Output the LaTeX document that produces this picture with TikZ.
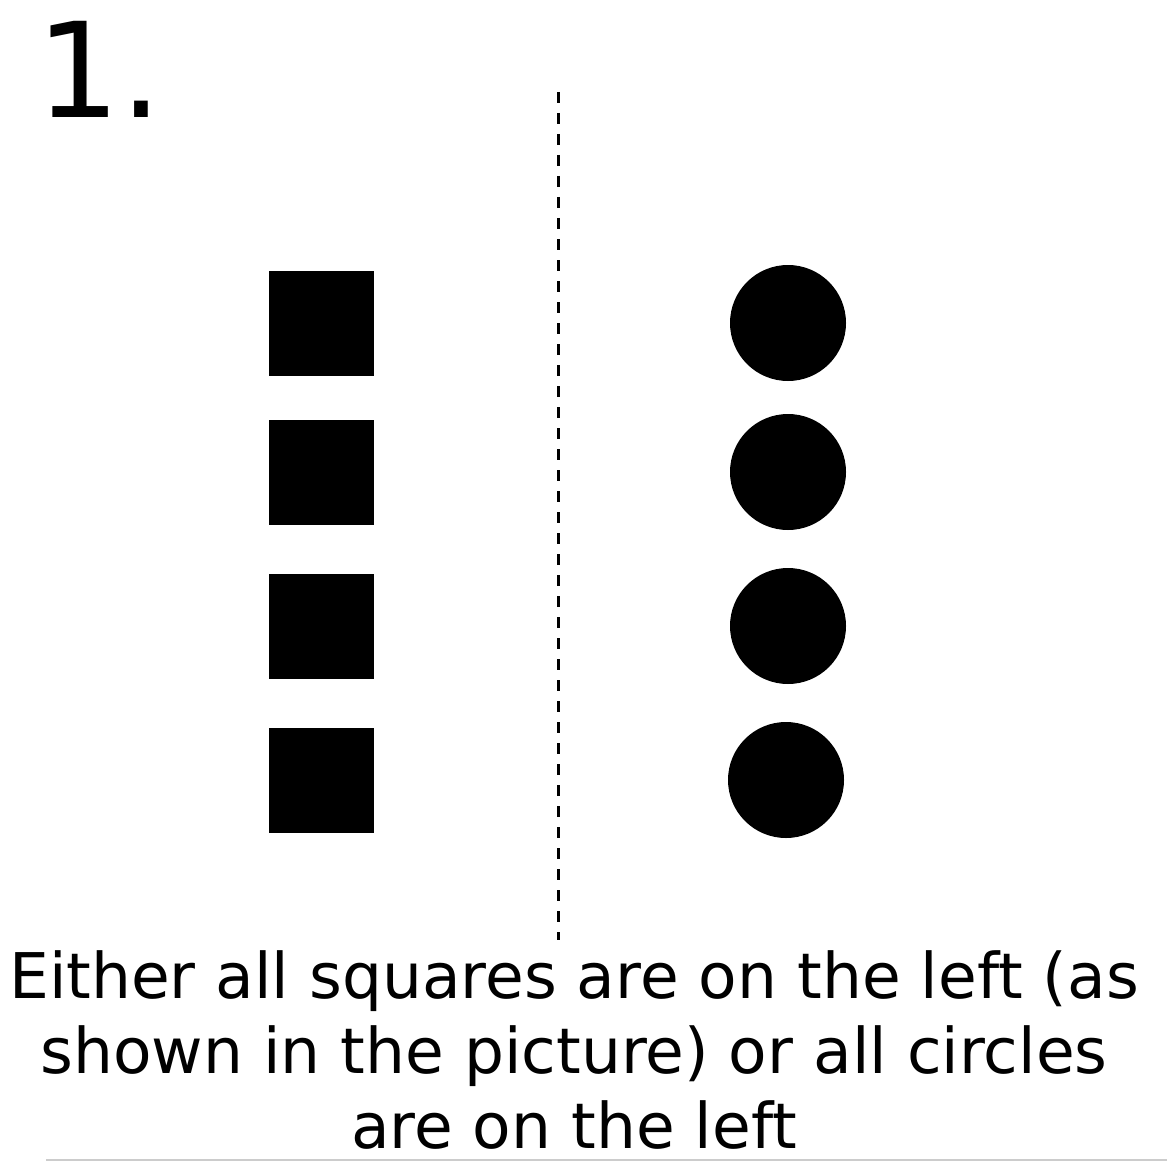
\documentclass[tikz,border=0pt]{standalone}
\usepackage{fontspec}
\setmainfont{DejaVu Sans}
\usetikzlibrary{positioning}
\definecolor{RuleGray}{HTML}{CCCCCC}

\begin{document}
\begin{tikzpicture}[
    x=1pt, y=-1pt,
    sqr/.style={draw=none, fill=black, minimum size=105pt, inner sep=0pt},
    dot/.style={circle, draw=none, fill=black, minimum size=116pt, inner sep=0pt},
    sep/.style={line width=3pt, dash pattern=on 11pt off 10pt},
    caption/.style={align=center, inner sep=0pt,
                    font=\fontsize{63}{75}\selectfont},
  ]
    \useasboundingbox (0,0) rectangle (1167,1161);

    % ── Number ───────────────────────────────────────────────────────────
    \node[anchor=base west, inner sep=0pt, font=\fontsize{132}{132}\selectfont]
      (num) at (36,118) {1.};

    % ── Left column: squares ─────────────────────────────────────────────
    \node[sqr] (s1) at (321,323) {};
    \node[sqr] (s2) at (321,472) {};
    \node[sqr] (s3) at (321,626) {};
    \node[sqr] (s4) at (321,780) {};

    % ── Right column: circles ────────────────────────────────────────────
    \node[dot] (c1) at (788,323) {};
    \node[dot] (c2) at (788,472) {};
    \node[dot] (c3) at (788,626) {};
    \node[dot] (c4) at (786,780) {};

    % ── Separator ────────────────────────────────────────────────────────
    \coordinate (top) at (558,92);
    \coordinate (bot) at (558,940);
    \draw[sep] (top) -- (bot);

    % ── Caption ──────────────────────────────────────────────────────────
    \node[caption, anchor=base] (cap) at (574,1148)
      {Either all squares are on the left (as\\
       shown in the picture) or all circles\\
       are on the left};

    \coordinate (rl) at (46,1160);
    \coordinate (rr) at (1167,1160);
    \draw[RuleGray, line width=1.5pt] (rl) -- (rr);
\end{tikzpicture}
\end{document}
